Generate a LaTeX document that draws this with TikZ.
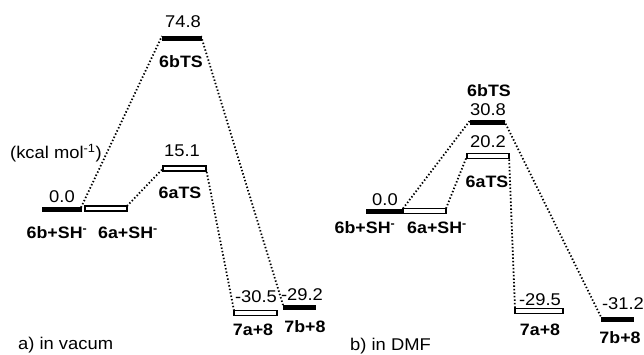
\documentclass[tikz,border=0pt]{standalone}
\usepackage{fontspec}
\setmainfont{Liberation Sans}[FakeStretch=1.08]
\begin{document}
\begin{tikzpicture}[x=1pt,y=-1pt,
  fbar/.style={draw=black,fill=black,line width=0.6pt,minimum height=4pt,inner sep=0pt,outer sep=0pt},
  obar/.style={draw=black,fill=white,line width=1.1pt,minimum height=5pt,inner sep=0pt,outer sep=0pt},
  num/.style={font=\fontsize{17}{19}\selectfont,inner sep=0pt},
  lab/.style={font=\fontsize{16.5}{19}\selectfont\bfseries,inner sep=0pt},
  dot/.style={line width=1.8pt,dash pattern=on 1.4pt off 2.1pt}]
\fill[white] (0,0) rectangle (644,354);
\useasboundingbox (0,0) rectangle (644,354);
% ---- panel a ----
\node[fbar,minimum width=39pt] (a6b) at (61.5,209.5) {};
\node[obar,minimum width=42pt] (a6a) at (106,208.5) {};
\node[fbar,minimum width=39pt] (a6bts) at (181.5,38) {};
\node[obar,minimum width=43pt] (a6ats) at (184.5,168.5) {};
\node[obar,minimum width=43pt] (a7a) at (255.5,313) {};
\node[fbar,minimum width=32pt] (a7b) at (299,307) {};
\node[num] (ta1) at (183,22) {74.8};
\node[lab] (la1) at (181,62) {6bTS};
\node[num,anchor=west] (kc) at (10,153) {(kcal mol\textsuperscript{-1})};
\node[num] (ta2) at (182,151) {15.1};
\node[lab] (la2) at (180,193) {6aTS};
\node[num] (ta3) at (62,197) {0.0};
\node[lab] (la3) at (57,233) {6b+SH\textsuperscript{-}};
\node[lab] (la4) at (128,233) {6a+SH\textsuperscript{-}};
\node[num] (ta4) at (256,297) {-30.5};
\node[num] (ta5) at (302,295) {-29.2};
\node[lab] (la5) at (253,330) {7a+8};
\node[lab] (la6) at (305,327) {7b+8};
\node[num,anchor=west] (pa) at (18,345) {a) in vacum};
\draw[dot] (a6b.north east) -- (a6bts.north west);
\draw[dot] (a6a.north east) -- (a6ats.west);
\draw[dot] (a6ats.east) -- (a7a.north west);
\draw[dot] (a6bts.north east) -- (a7b.north west);
% ---- panel b ----
\node[fbar,minimum width=35pt] (b6b) at (383.5,211) {};
\node[obar,minimum width=43pt] (b6a) at (424.5,211) {};
\node[fbar,minimum width=34pt] (b6bts) at (487,122.5) {};
\node[obar,minimum width=42pt] (b6ats) at (488,156) {};
\node[obar,minimum width=48pt] (b7a) at (539,311) {};
\node[fbar,minimum width=32pt] (b7b) at (617,319) {};
\node[lab] (lb1) at (489,91) {6bTS};
\node[num] (tb1) at (488,110) {30.8};
\node[num] (tb2) at (488,142) {20.2};
\node[lab] (lb2) at (487,182) {6aTS};
\node[num] (tb3) at (385,200) {0.0};
\node[lab] (lb3) at (365,228) {6b+SH\textsuperscript{-}};
\node[lab] (lb4) at (437,228) {6a+SH\textsuperscript{-}};
\node[num] (tb4) at (540,300) {-29.5};
\node[num] (tb5) at (623,304) {-31.2};
\node[lab] (lb5) at (540,330) {7a+8};
\node[lab] (lb6) at (620,338) {7b+8};
\node[num,anchor=west] (pb) at (350,346) {b) in DMF};
\draw[dot] (b6a.north west) -- (b6bts.north west);
\draw[dot] (b6a.north east) -- (b6ats.west);
\draw[dot] (b6ats.east) -- (b7a.north west);
\draw[dot] (b6bts.north east) -- (b7b.north west);
\end{tikzpicture}
\end{document}
